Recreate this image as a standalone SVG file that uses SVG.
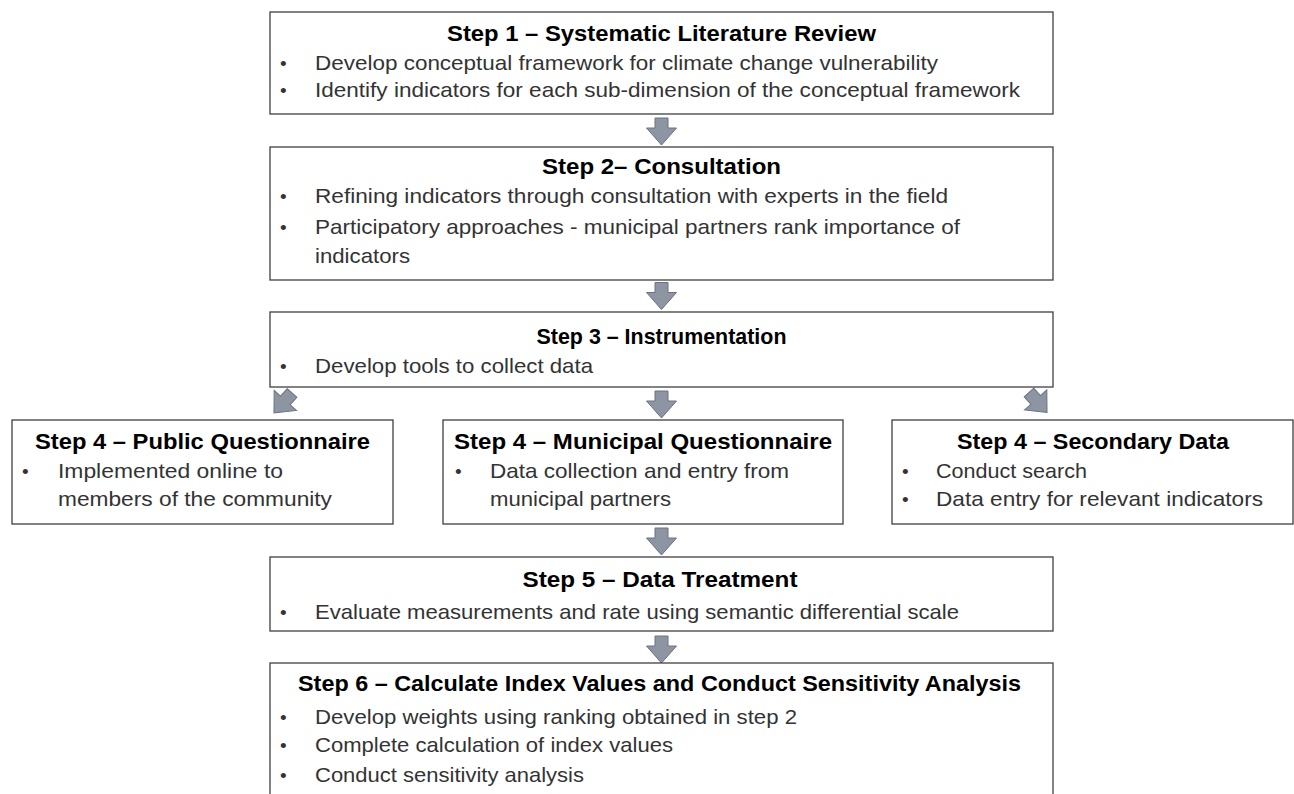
<svg xmlns="http://www.w3.org/2000/svg" xmlns:xlink="http://www.w3.org/1999/xlink" width="1294" height="794" viewBox="0 0 1294 794">
  <style>
    .box { fill: #ffffff; stroke: #3f3f3f; stroke-width: 1.3; }
    .title { font-family: "Liberation Sans", Arial, sans-serif; font-weight: bold; font-size: 22px; fill: #000000; }
    .item { font-family: "Liberation Sans", Arial, sans-serif; font-size: 21px; fill: #333333; }
    .dot { font-family: "Liberation Sans", Arial, sans-serif; font-size: 19px; fill: #333333; }
    .arrow { fill: #8e95a2; stroke: #6a7282; stroke-width: 1; stroke-linejoin: miter; }
  </style>
  <defs>
    <!-- block arrow pointing down, centred on the origin -->
    <path id="blockArrow" d="M-6.5,-13.5 H6.5 V-3.5 H15 L0,13.5 L-15,-3.5 H-6.5 Z"/>
  </defs>
  <rect width="1294" height="794" fill="#ffffff"/>

  <g id="connectors">
    <use xlink:href="#blockArrow" class="arrow" transform="translate(661.5,131.5)"/>
    <use xlink:href="#blockArrow" class="arrow" transform="translate(661.5,296)"/>
    <use xlink:href="#blockArrow" class="arrow" transform="translate(283,403) rotate(42)"/>
    <use xlink:href="#blockArrow" class="arrow" transform="translate(661.5,404.5)"/>
    <use xlink:href="#blockArrow" class="arrow" transform="translate(1038,402.5) rotate(-42)"/>
    <use xlink:href="#blockArrow" class="arrow" transform="translate(661.5,541.5)"/>
    <use xlink:href="#blockArrow" class="arrow" transform="translate(661.5,649.5)"/>
  </g>

  <g id="step1">
    <rect class="box" x="270" y="12" width="783" height="102"/>
    <text class="title" x="661.5" y="41" text-anchor="middle" textLength="429" lengthAdjust="spacingAndGlyphs">Step 1 – Systematic Literature Review</text>
    <text class="dot" x="280" y="70">•</text>
    <text class="item" x="315" y="70" textLength="623" lengthAdjust="spacingAndGlyphs">Develop conceptual framework for climate change vulnerability</text>
    <text class="dot" x="280" y="97">•</text>
    <text class="item" x="315" y="97" textLength="705" lengthAdjust="spacingAndGlyphs">Identify indicators for each sub-dimension of the conceptual framework</text>
  </g>

  <g id="step2">
    <rect class="box" x="270" y="147" width="783" height="133"/>
    <text class="title" x="661.5" y="174" text-anchor="middle" textLength="239" lengthAdjust="spacingAndGlyphs">Step 2– Consultation</text>
    <text class="dot" x="280" y="203">•</text>
    <text class="item" x="315" y="203" textLength="633" lengthAdjust="spacingAndGlyphs">Refining indicators through consultation with experts in the field</text>
    <text class="dot" x="280" y="234">•</text>
    <text class="item" x="315" y="234" textLength="645" lengthAdjust="spacingAndGlyphs">Participatory approaches - municipal partners rank importance of</text>
    <text class="item" x="315" y="263" textLength="95" lengthAdjust="spacingAndGlyphs">indicators</text>
  </g>

  <g id="step3">
    <rect class="box" x="270" y="312" width="783" height="75"/>
    <text class="title" x="661.5" y="344" text-anchor="middle" textLength="250" lengthAdjust="spacingAndGlyphs">Step 3 – Instrumentation</text>
    <text class="dot" x="280" y="373">•</text>
    <text class="item" x="315" y="373" textLength="278" lengthAdjust="spacingAndGlyphs">Develop tools to collect data</text>
  </g>

  <g id="step4-public">
    <rect class="box" x="12" y="420" width="381" height="104"/>
    <text class="title" x="202.5" y="449" text-anchor="middle" textLength="335" lengthAdjust="spacingAndGlyphs">Step 4 – Public Questionnaire</text>
    <text class="dot" x="22" y="478">•</text>
    <text class="item" x="58" y="478" textLength="225" lengthAdjust="spacingAndGlyphs">Implemented online to</text>
    <text class="item" x="58" y="506" textLength="274" lengthAdjust="spacingAndGlyphs">members of the community</text>
  </g>

  <g id="step4-municipal">
    <rect class="box" x="443" y="420" width="400" height="104"/>
    <text class="title" x="643" y="449" text-anchor="middle" textLength="378" lengthAdjust="spacingAndGlyphs">Step 4 – Municipal Questionnaire</text>
    <text class="dot" x="455" y="478">•</text>
    <text class="item" x="490" y="478" textLength="299" lengthAdjust="spacingAndGlyphs">Data collection and entry from</text>
    <text class="item" x="490" y="506" textLength="181" lengthAdjust="spacingAndGlyphs">municipal partners</text>
  </g>

  <g id="step4-secondary">
    <rect class="box" x="892" y="420" width="401" height="104"/>
    <text class="title" x="1093" y="449" text-anchor="middle" textLength="272" lengthAdjust="spacingAndGlyphs">Step 4 – Secondary Data</text>
    <text class="dot" x="902" y="478">•</text>
    <text class="item" x="936" y="478" textLength="151" lengthAdjust="spacingAndGlyphs">Conduct search</text>
    <text class="dot" x="902" y="506">•</text>
    <text class="item" x="936" y="506" textLength="327" lengthAdjust="spacingAndGlyphs">Data entry for relevant indicators</text>
  </g>

  <g id="step5">
    <rect class="box" x="270" y="557" width="783" height="74"/>
    <text class="title" x="660" y="587" text-anchor="middle" textLength="275" lengthAdjust="spacingAndGlyphs">Step 5 – Data Treatment</text>
    <text class="dot" x="280" y="619">•</text>
    <text class="item" x="315" y="619" textLength="644" lengthAdjust="spacingAndGlyphs">Evaluate measurements and rate using semantic differential scale</text>
  </g>

  <g id="step6">
    <rect class="box" x="270" y="663" width="783" height="140"/>
    <text class="title" x="298" y="691" textLength="723" lengthAdjust="spacingAndGlyphs">Step 6 – Calculate Index Values and Conduct Sensitivity Analysis</text>
    <text class="dot" x="280" y="724">•</text>
    <text class="item" x="315" y="724" textLength="482" lengthAdjust="spacingAndGlyphs">Develop weights using ranking obtained in step 2</text>
    <text class="dot" x="280" y="752">•</text>
    <text class="item" x="315" y="752" textLength="358" lengthAdjust="spacingAndGlyphs">Complete calculation of index values</text>
    <text class="dot" x="280" y="782">•</text>
    <text class="item" x="315" y="782" textLength="269" lengthAdjust="spacingAndGlyphs">Conduct sensitivity analysis</text>
  </g>
</svg>
